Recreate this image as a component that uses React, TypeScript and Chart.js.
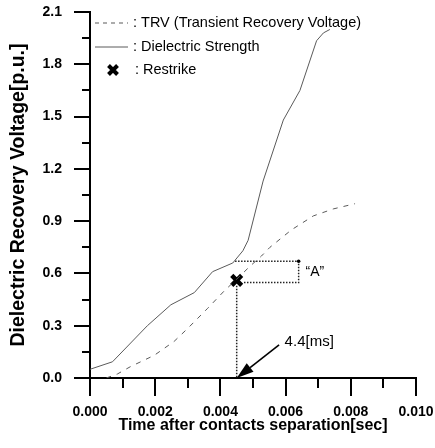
import React, { useEffect, useRef } from "react";
import { Chart, registerables } from "chart.js";

Chart.register(...registerables);

// Time after contact separation [s] and voltage [p.u.]
const trvTime = [0.0005, 0.00084, 0.00124, 0.00197, 0.00258, 0.003, 0.00361, 0.00412, 0.0046, 0.0049, 0.00526, 0.00552, 0.00618, 0.00685, 0.00746, 0.00813];
const trvVolt = [0.0, 0.023, 0.065, 0.13, 0.21, 0.285, 0.4, 0.5, 0.585, 0.64, 0.7, 0.75, 0.85, 0.93, 0.97, 1.0];

const dsTime = [0.0, 0.00069, 0.00176, 0.00248, 0.0032, 0.00376, 0.00438, 0.00469, 0.00485, 0.00531, 0.00593, 0.00644, 0.00695, 0.00716, 0.00736];
const dsVolt = [0.05, 0.093, 0.3, 0.42, 0.49, 0.61, 0.66, 0.73, 0.79, 1.13, 1.48, 1.65, 1.935, 1.98, 2.0];

const restrikeTime = [0.0045];
const restrikeVolt = [0.56];

// dotted guide: restrike instant down to the time axis
const guideTime = [0.0045, 0.0045];
const guideVolt = [0.53, 0.0];

// dotted "A" bracket
const bracketTime = [0.00445, 0.0064, 0.0064, 0.0047];
const bracketVolt = [0.67, 0.67, 0.548, 0.548];

const xTicks = [0, 0.002, 0.004, 0.006, 0.008, 0.01];
const yTicks = [0, 0.3, 0.6, 0.9, 1.2, 1.5, 1.8, 2.1];
const xMinor = [0.001, 0.003, 0.005, 0.007, 0.009];
const yMinor = [0.15, 0.45, 0.75, 1.05, 1.35, 1.65, 1.95];

const legendLabels = [": TRV (Transient Recovery Voltage)", ": Dielectric Strength", ": Restrike"];
const arrowFrom = [0.0058, 0.19];
const arrowTo = [0.0045, 0.0];
const msLabel = "4.4[ms]";
const msLabelAt = [0.00597, 0.21];
const aLabel = "\u201CA\u201D";
const aLabelAt = [0.00661, 0.607];

const FONT = '"Liberation Sans", Arial, sans-serif';
const CURVE = "#5a5a5a";
const pts = (t: number[], v: number[]) => t.map((x, i) => ({ x, y: v[i] }));

const decor = {
  id: "decor",
  afterDraw(chart: any) {
    const { ctx, scales, chartArea } = chart;
    const xs = scales.x;
    const ys = scales.y;
    ctx.save();
    // minor ticks
    ctx.strokeStyle = "#000";
    ctx.lineWidth = 2;
    xMinor.forEach((t) => {
      const px = Math.round(xs.getPixelForValue(t));
      ctx.beginPath();
      ctx.moveTo(px, chartArea.bottom);
      ctx.lineTo(px, chartArea.bottom + 10);
      ctx.stroke();
    });
    yMinor.forEach((v) => {
      const py = Math.round(ys.getPixelForValue(v));
      ctx.beginPath();
      ctx.moveTo(chartArea.left - 8, py);
      ctx.lineTo(chartArea.left, py);
      ctx.stroke();
    });

    // legend
    const lx0 = chartArea.left + 5;
    const lx1 = chartArea.left + 38;
    const tx = chartArea.left + 43;
    const rows = [chartArea.top + 11, chartArea.top + 35, chartArea.top + 58];
    ctx.strokeStyle = CURVE;
    ctx.lineWidth = 1;
    ctx.setLineDash([4, 4]);
    ctx.beginPath();
    ctx.moveTo(lx0, rows[0]);
    ctx.lineTo(lx1, rows[0]);
    ctx.stroke();
    ctx.setLineDash([]);
    ctx.beginPath();
    ctx.moveTo(lx0, rows[1]);
    ctx.lineTo(lx1, rows[1]);
    ctx.stroke();
    const mx = chartArea.left + 23;
    const my = rows[2];
    ctx.strokeStyle = "#000";
    ctx.lineWidth = 4;
    ctx.beginPath();
    ctx.moveTo(mx - 4.5, my - 4.5);
    ctx.lineTo(mx + 4.5, my + 4.5);
    ctx.moveTo(mx + 4.5, my - 4.5);
    ctx.lineTo(mx - 4.5, my + 4.5);
    ctx.stroke();
    ctx.fillStyle = "#000";
    ctx.font = `14.5px ${FONT}`;
    ctx.textBaseline = "middle";
    ctx.textAlign = "left";
    legendLabels.forEach((s, i) => ctx.fillText(s, tx + (i === 2 ? 2 : 0), rows[i]));

    // arrow to the restrike instant
    const ax0 = xs.getPixelForValue(arrowFrom[0]);
    const ay0 = ys.getPixelForValue(arrowFrom[1]);
    const ax1 = xs.getPixelForValue(arrowTo[0]);
    const ay1 = ys.getPixelForValue(arrowTo[1]);
    const ang = Math.atan2(ay1 - ay0, ax1 - ax0);
    const hl = 17;
    const hw = 5.5;
    const bx = ax1 - hl * Math.cos(ang);
    const by = ay1 - hl * Math.sin(ang);
    ctx.lineWidth = 1.6;
    ctx.beginPath();
    ctx.moveTo(ax0, ay0);
    ctx.lineTo(bx, by);
    ctx.stroke();
    ctx.beginPath();
    ctx.moveTo(ax1, ay1);
    ctx.lineTo(bx + hw * Math.sin(ang), by - hw * Math.cos(ang));
    ctx.lineTo(bx - hw * Math.sin(ang), by + hw * Math.cos(ang));
    ctx.closePath();
    ctx.fill();

    ctx.font = `15px ${FONT}`;
    ctx.fillText(msLabel, xs.getPixelForValue(msLabelAt[0]), ys.getPixelForValue(msLabelAt[1]));
    ctx.font = `14px ${FONT}`;
    ctx.fillText(aLabel, xs.getPixelForValue(aLabelAt[0]), ys.getPixelForValue(aLabelAt[1]));
    ctx.restore();
  },
};

const zeroPad = (s: any) => {
  s.paddingTop = 0;
  s.paddingBottom = 0;
  s.paddingLeft = 0;
  s.paddingRight = 0;
};

export default function App() {
  const ref = useRef<HTMLCanvasElement | null>(null);
  useEffect(() => {
    if (!ref.current) return;
    const chart = new Chart(ref.current, {
      type: "line",
      data: {
        datasets: [
          { label: "TRV", data: pts(trvTime, trvVolt), borderColor: CURVE, borderWidth: 1, borderDash: [5, 6], pointRadius: 0, fill: false },
          { label: "Dielectric Strength", data: pts(dsTime, dsVolt), borderColor: CURVE, borderWidth: 1, pointRadius: 0, fill: false },
          { label: "guide", data: pts(guideTime, guideVolt), borderColor: "#222", borderWidth: 1.5, borderDash: [1.5, 1.5], pointRadius: 0 },
          {
            label: "bracket",
            data: pts(bracketTime, bracketVolt),
            borderColor: "#222",
            borderWidth: 1.5,
            borderDash: [1.5, 1.5],
            pointRadius: (c: any) => (c.dataIndex === 1 ? 1.8 : 0),
            pointBackgroundColor: "#000",
            pointBorderWidth: 0,
          },
          { label: "Restrike", data: pts(restrikeTime, restrikeVolt), showLine: false, pointStyle: "crossRot", pointRadius: 7, borderColor: "#000", borderWidth: 4.5 },
        ],
      },
      options: {
        responsive: false,
        animation: false,
        events: [],
        layout: { padding: { top: 12, right: 19, left: 0, bottom: 0 } },
        plugins: { legend: { display: false }, tooltip: { enabled: false } },
        scales: {
          x: {
            type: "linear",
            min: 0,
            max: 0.01,
            afterFit: (s: any) => {
              s.height = 70;
              zeroPad(s);
            },
            afterBuildTicks: (s: any) => {
              s.ticks = xTicks.map((value) => ({ value }));
            },
            ticks: {
              callback: (v: any) => Number(v).toFixed(3),
              font: { family: FONT, size: 14, weight: "bold" },
              color: "#000",
              padding: 8,
              maxRotation: 0,
            },
            grid: { drawOnChartArea: false, drawTicks: true, tickLength: 18, color: "#000", lineWidth: 2 },
            border: { display: true, color: "#000", width: 2 },
            title: {
              display: true,
              text: "Time after contacts separation[sec]",
              font: { family: FONT, size: 16, weight: "bold" },
              color: "#000",
              padding: { top: 0, bottom: 13 },
            },
          },
          y: {
            type: "linear",
            min: 0,
            max: 2.1,
            afterFit: (s: any) => {
              s.width = 90;
              zeroPad(s);
            },
            afterBuildTicks: (s: any) => {
              s.ticks = yTicks.map((value) => ({ value }));
            },
            ticks: {
              callback: (v: any) => Number(v).toFixed(1),
              font: { family: FONT, size: 14, weight: "bold" },
              color: "#000",
              padding: 12,
            },
            grid: { drawOnChartArea: false, drawTicks: true, tickLength: 16, color: "#000", lineWidth: 2 },
            border: { display: true, color: "#000", width: 2 },
            title: {
              display: true,
              text: "Dielectric Recovery Voltage[p.u.]",
              font: { family: FONT, size: 19.5, weight: "bold" },
              color: "#000",
              padding: { top: 7, bottom: 0 },
            },
          },
        },
      },
      plugins: [decor],
    } as any);
    return () => chart.destroy();
  }, []);
  return (
    <div style={{ position: "fixed", left: 0, top: 0, width: 435, height: 448, background: "#fff" }}>
      <canvas ref={ref} width={435} height={448} />
    </div>
  );
}
